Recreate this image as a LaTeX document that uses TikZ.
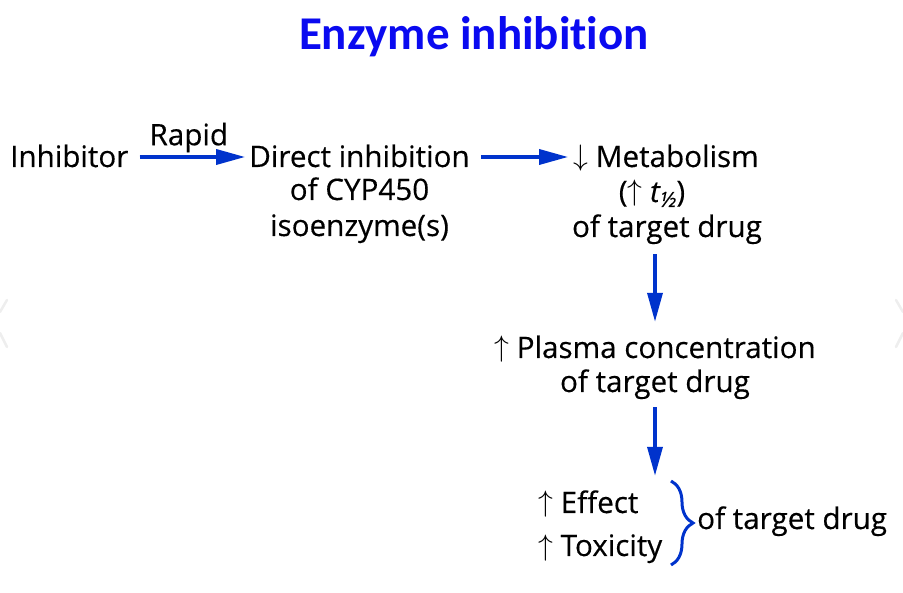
\documentclass[tikz,border=0pt]{standalone}
\usepackage{fix-cm}
\usepackage{fontspec}
\setmainfont{Open Sans}[FakeBold=0.35]
\newfontfamily\titlefont{Carlito}[Ligatures={NoCommon,NoRare}]
\usetikzlibrary{arrows.meta,decorations.pathreplacing}
\definecolor{arrowblue}{RGB}{0,51,204}
\definecolor{titleblue}{RGB}{10,10,240}
\definecolor{chevgray}{RGB}{238,238,238}
\newcommand{\upar}{\raisebox{1pt}{$\uparrow$}}
\newcommand{\dnar}{\raisebox{1pt}{$\downarrow$}}
\begin{document}
\begin{tikzpicture}[x=1pt,y=-1pt,
  txt/.style={inner sep=0pt, anchor=base, text height=22pt, text depth=2pt,
              font=\fontsize{29.6}{34}\selectfont},
  arr/.style={draw=arrowblue, fill=arrowblue, line width=3.5pt,
              -{Triangle[length=29pt,width=15pt]}},
  bracestyle/.style={draw=arrowblue, line width=3pt,
              decorate, decoration={brace, amplitude=22pt}},
  chev/.style={draw=chevgray, line width=2.5pt, line cap=round}]
\useasboundingbox (0,0) rectangle (903,593);
% faint slide-navigation chevrons
\draw[chev] (7,300) -- (0,312) (0,333) -- (7,347);
\draw[chev] (896,300) -- (903,312) (903,333) -- (896,347);
% title
\node[anchor=base, inner sep=0pt, text=titleblue,
      font=\titlefont\bfseries\fontsize{47}{47}\selectfont] (title) at (474,50) {Enzyme inhibition};
% row 1
\node[txt, anchor=base west] (inh) at (10,167) {Inhibitor};
\node[txt] (dir1) at (359.5,167) {Direct inhibition};
\node[txt] (dir2) at (359.5,200) {of CYP450};
\node[txt] (dir3) at (359.5,236) {isoenzyme(s)};
\node[txt] (met1) at (666,167) {\dnar\ Metabolism};
\node[txt] (met2) at (652,202) {(\upar\ \textit{t}\kern-1pt\raisebox{-5pt}{\fontsize{21}{21}\selectfont\itshape ½})};
\node[txt] (met3) at (667,237) {of target drug};
% row 2
\node[txt] (pl1) at (655,358) {\upar\ Plasma concentration};
\node[txt] (pl2) at (655,392) {of target drug};
% row 3
\node[txt, anchor=base west] (eff) at (538,513) {\upar\ Effect};
\node[txt, anchor=base west] (tox) at (538,556) {\upar\ Toxicity};
\node[txt, anchor=base west] (oft) at (697,529) {of target drug};
% connectors
\draw[arr, shorten <=11pt, shorten >=4pt] (inh.east) -- node[txt, anchor=base, above=3pt, text height=22pt, text depth=7pt] (rapid) {Rapid} (dir1.west);
\draw[arr, shorten <=11pt, shorten >=5pt] (dir1.east) -- (met1.west);
\draw[arr, shorten <=15pt, shorten >=14pt] (pl1.north |- met3.south) -- (pl1.north);
\draw[arr, shorten <=13pt, shorten >=15pt] (pl2.south) -- (pl2.south |- eff.north);
% brace
\coordinate (bt) at (671,481);
\coordinate (bb) at (671,565);
\draw[bracestyle] (bt) -- (bb);
\end{tikzpicture}
\end{document}
